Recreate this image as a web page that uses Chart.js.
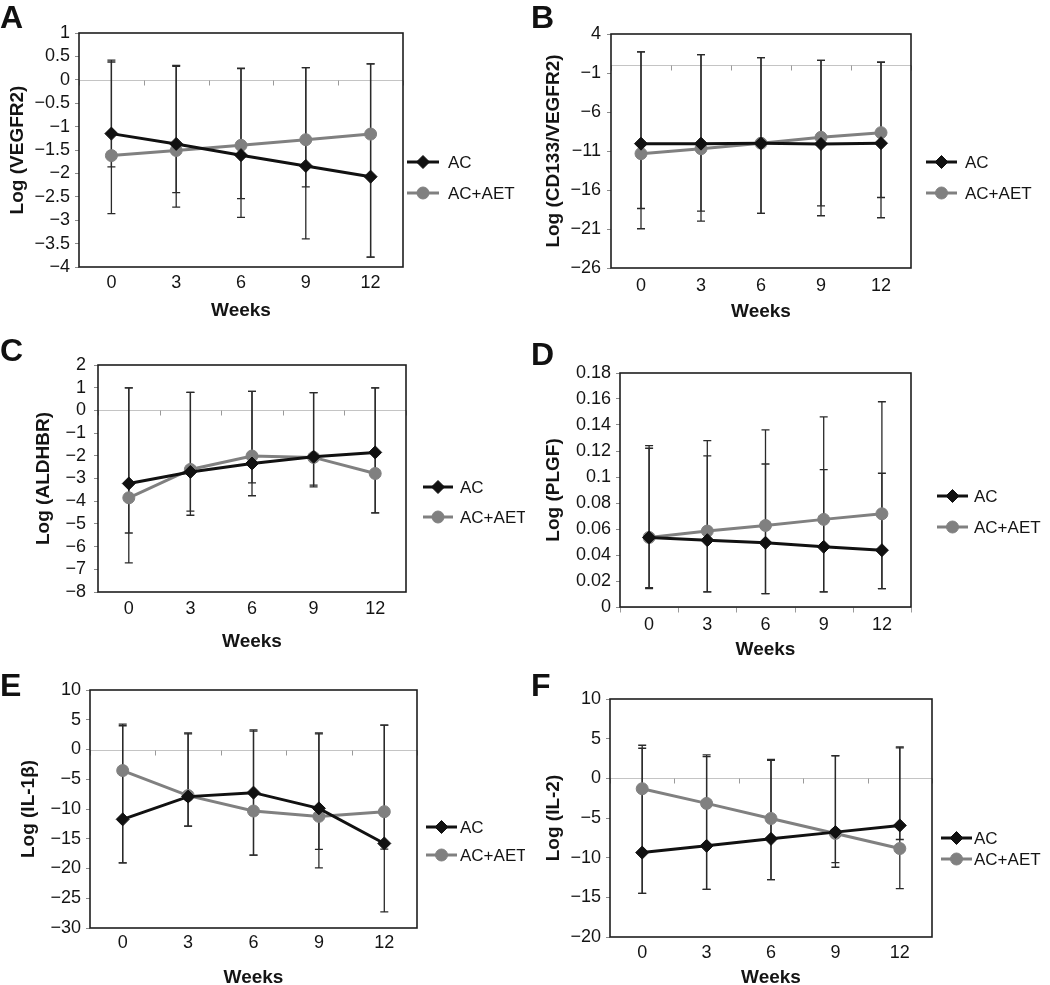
<!DOCTYPE html>
<html>
<head>
<meta charset="utf-8">
<script src="https://cdn.jsdelivr.net/npm/chart.js@4.4.1/dist/chart.umd.min.js"></script>
<style>
  html, body { margin: 0; padding: 0; background: #fff; overflow: hidden; }
  #wrap { position: relative; width: 1050px; height: 985px; }
  .letter { position: absolute; font: bold 32px "Liberation Sans", Arial, sans-serif; line-height: 1; color: #111; }
</style>
</head>
<body>
<div id="wrap"></div>
<script>
// ---- data ----
const weeks = ['0', '3', '6', '9', '12'];

// A: Log (VEGFR2)
const vegfrAC     = [-1.15, -1.37, -1.61, -1.84, -2.07];
const vegfrAET    = [-1.62, -1.51, -1.40, -1.28, -1.16];
const vegfrACHi   = [0.42, 0.31, 0.25, 0.26, 0.34];
const vegfrACLo   = [-2.86, -2.41, -2.54, -3.40, -3.79];
const vegfrAETHi  = [0.38, 0.29, 0.24, 0.26, 0.34];
const vegfrAETLo  = [-1.86, -2.72, -2.94, -2.29, -3.79];

// B: Log (CD133/VEGFR2)
const cd133AC     = [-10.06, -10.06, -10.02, -10.10, -10.00];
const cd133AET    = [-11.34, -10.70, -10.00, -9.25, -8.65];
const cd133ACHi   = [1.70, 1.36, 0.97, 0.63, 0.38];
const cd133ACLo   = [-20.97, -19.99, -19.00, -19.30, -19.56];
const cd133AETHi  = [1.70, 1.36, 0.97, 0.63, 0.38];
const cd133AETLo  = [-18.37, -18.70, -19.00, -18.03, -16.96];

// C: Log (ALDHBR)
const aldhAC      = [-3.22, -2.71, -2.34, -2.04, -1.85];
const aldhAET     = [-3.85, -2.60, -2.01, -2.07, -2.78];
const aldhACHi    = [0.99, 0.79, 0.84, 0.78, 0.99];
const aldhACLo    = [-6.72, -4.44, -3.76, -3.29, -4.51];
const aldhAETHi   = [0.99, 0.79, 0.84, 0.78, 0.99];
const aldhAETLo   = [-5.40, -4.62, -3.19, -3.37, -4.51];

// D: Log (PLGF)
const plgfAC      = [0.0535, 0.0514, 0.0494, 0.0463, 0.0437];
const plgfAET     = [0.0535, 0.0584, 0.0627, 0.0674, 0.0717];
const plgfACHi    = [0.1221, 0.1162, 0.1100, 0.1057, 0.1029];
const plgfACLo    = [0.0141, 0.0116, 0.0103, 0.0116, 0.0141];
const plgfAETHi   = [0.1242, 0.1280, 0.1363, 0.1463, 0.1579];
const plgfAETLo   = [0.0149, 0.0116, 0.0103, 0.0116, 0.0141];

// E: Log (IL-1β)
const il1bAC      = [-11.74, -7.92, -7.25, -9.89, -15.79];
const il1bAET     = [-3.54, -7.75, -10.34, -11.24, -10.45];
const il1bACHi    = [3.99, 2.64, 3.09, 2.64, 4.10];
const il1bACLo    = [-19.04, -12.87, -17.75, -16.80, -27.30];
const il1bAETHi   = [4.27, 2.81, 3.31, 2.81, 4.10];
const il1bAETLo   = [-19.04, -12.87, -17.75, -19.89, -16.74];

// F: Log (IL-2)
const il2AC       = [-9.36, -8.51, -7.63, -6.78, -5.94];
const il2AET      = [-1.31, -3.16, -5.06, -6.95, -8.85];
const il2ACHi     = [3.79, 2.74, 2.28, 2.82, 3.83];
const il2ACLo     = [-14.50, -13.99, -12.77, -11.21, -7.71];
const il2AETHi    = [4.17, 2.95, 2.40, 2.87, 3.96];
const il2AETLo    = [-14.50, -13.99, -12.77, -10.62, -13.90];

// y axis ranges [min, max, step]
const vegfrRange = [-4, 1, 0.5];
const cd133Range = [-26, 4, 5];
const aldhRange  = [-8, 2, 1];
const plgfRange  = [0, 0.18, 0.02];
const il1bRange  = [-30, 10, 5];
const il2Range   = [-20, 10, 5];

const seriesNames = ['AC', 'AC+AET'];

// ---- layout ----
const FONT = '"Liberation Sans", Arial, sans-serif';
const INK = '#141414';
const GREY = '#808080';

const panels = [
  { letter: 'A', lx: 0, ly: 1, left: 0, top: 0, w: 525, h: 320, area: [79, 33, 403, 267],
    range: vegfrRange, title: 'Log (VEGFR2)', yTitlePad: 8, yTickPad: 5, xTickPad: 7.5,
    legend: { x0: 407, x1: 439, tx: 448, y: [162, 193] },
    ac: vegfrAC, aet: vegfrAET, acHi: vegfrACHi, acLo: vegfrACLo, aetHi: vegfrAETHi, aetLo: vegfrAETLo },
  { letter: 'B', lx: 531, ly: 1, left: 525, top: 0, w: 525, h: 321, area: [86, 34, 386, 268],
    range: cd133Range, title: 'Log (CD133/VEGFR2)', yTitlePad: 19, yTickPad: 6, xTickPad: 9.5,
    legend: { x0: 401, x1: 432, tx: 440, y: [162, 193] },
    ac: cd133AC, aet: cd133AET, acHi: cd133ACHi, acLo: cd133ACLo, aetHi: cd133AETHi, aetLo: cd133AETLo },
  { letter: 'C', lx: 0, ly: 334, left: 0, top: 330, w: 525, h: 321, area: [98, 35, 406, 262],
    range: aldhRange, title: 'Log (ALDHBR)', yTitlePad: 34.5, yTickPad: 8, xTickPad: 8.5,
    legend: { x0: 423, x1: 453, tx: 460, y: [157, 187] },
    ac: aldhAC, aet: aldhAET, acHi: aldhACHi, acLo: aldhACLo, aetHi: aldhAETHi, aetLo: aldhAETLo },
  { letter: 'D', lx: 531, ly: 338, left: 525, top: 330, w: 525, h: 329, area: [95, 43, 386, 277],
    range: plgfRange, title: 'Log (PLGF)', yTitlePad: 19.5, yTickPad: 5, xTickPad: 9,
    legend: { x0: 412, x1: 443, tx: 449, y: [166, 197] },
    ac: plgfAC, aet: plgfAET, acHi: plgfACHi, acLo: plgfACLo, aetHi: plgfAETHi, aetLo: plgfAETLo },
  { letter: 'E', lx: 0, ly: 669, left: 0, top: 655, w: 525, h: 332, area: [90, 35, 417, 273],
    range: il1bRange, title: 'Log (IL-1β)', yTitlePad: 19.5, yTickPad: 5, xTickPad: 6.5,
    legend: { x0: 426, x1: 457, tx: 460, y: [172, 200] },
    ac: il1bAC, aet: il1bAET, acHi: il1bACHi, acLo: il1bACLo, aetHi: il1bAETHi, aetLo: il1bAETLo },
  { letter: 'F', lx: 531, ly: 669, left: 525, top: 655, w: 525, h: 332, area: [85, 44, 407, 282],
    range: il2Range, title: 'Log (IL-2)', yTitlePad: 19, yTickPad: 5, xTickPad: 7.5,
    legend: { x0: 416, x1: 447, tx: 449, y: [183, 204] },
    ac: il2AC, aet: il2AET, acHi: il2ACHi, acLo: il2ACLo, aetHi: il2AETHi, aetLo: il2AETLo }
];

// number format with a real minus sign, no trailing zeros
function fmtTick(v) {
  const s = String(parseFloat(Number(v).toFixed(4)));
  return s.replace('-', '\u2212');
}

// zero line + its ticks, error bars, plot frame and legend
const excelLook = {
  id: 'excelLook',
  beforeDatasetsDraw(chart) {
    const { ctx, chartArea: a, scales: { x, y } } = chart;
    ctx.save();
    const y0 = Math.round(y.getPixelForValue(0)) + 0.5;
    // grey zero line (the horizontal axis crosses here)
    ctx.strokeStyle = '#c4c4c4';
    ctx.lineWidth = 1;
    ctx.beginPath();
    ctx.moveTo(a.left, y0); ctx.lineTo(a.right, y0);
    ctx.stroke();
    // small ticks on the zero line between categories
    ctx.strokeStyle = '#9a9a9a';
    ctx.beginPath();
    for (let i = 0; i <= weeks.length; i++) {
      const xb = Math.round(x.getPixelForValue(i - 0.5)) + 0.5;
      ctx.moveTo(xb, y0);
      ctx.lineTo(xb, y0 + 5);
    }
    ctx.stroke();
    // error bars
    ctx.strokeStyle = '#2a2a2a';
    ctx.lineWidth = 1.3;
    chart.data.datasets.forEach(ds => {
      ds.data.forEach((v, i) => {
        const px = x.getPixelForValue(i);
        const yh = y.getPixelForValue(ds.errHi[i]);
        const yl = y.getPixelForValue(ds.errLo[i]);
        ctx.beginPath();
        ctx.moveTo(px, yh); ctx.lineTo(px, yl);
        ctx.moveTo(px - 4, yh); ctx.lineTo(px + 4, yh);
        ctx.moveTo(px - 4, yl); ctx.lineTo(px + 4, yl);
        ctx.stroke();
      });
    });
    ctx.restore();
  },
  afterDraw(chart) {
    const { ctx, chartArea: a } = chart;
    const lg = chart.options.plugins.excelLook.legend;
    ctx.save();
    ctx.strokeStyle = '#1e1e1e';
    ctx.lineWidth = 1.6;
    ctx.strokeRect(a.left, a.top, a.right - a.left, a.bottom - a.top);

    // legend: line + marker + label
    chart.data.datasets.forEach((ds, k) => {
      const yy = lg.y[k];
      ctx.strokeStyle = ds.borderColor;
      ctx.lineWidth = 3;
      ctx.beginPath();
      ctx.moveTo(lg.x0, yy); ctx.lineTo(lg.x1, yy);
      ctx.stroke();
      ctx.fillStyle = ds.backgroundColor;
      ctx.strokeStyle = ds.borderColor;
      ctx.lineWidth = 1;
      Chart.helpers.drawPoint(ctx, { pointStyle: ds.pointStyle, rotation: 0, radius: ds.pointRadius, borderWidth: 1 },
        (lg.x0 + lg.x1) / 2, yy);
      ctx.fillStyle = INK;
      ctx.font = '17px ' + FONT;
      ctx.textAlign = 'left';
      ctx.textBaseline = 'middle';
      ctx.fillText(ds.label, lg.tx, yy + 1);
    });
    ctx.restore();
  }
};

const wrap = document.getElementById('wrap');

panels.forEach(p => {
  const c = document.createElement('canvas');
  c.width = p.w;
  c.height = p.h;
  c.style.cssText = 'position:absolute;left:' + p.left + 'px;top:' + p.top + 'px;width:' + p.w + 'px;height:' + p.h + 'px';
  wrap.appendChild(c);

  const [l, t, r, b] = p.area;
  new Chart(c.getContext('2d'), {
    type: 'line',
    data: {
      labels: weeks,
      datasets: [
        { label: seriesNames[0], data: p.ac, errHi: p.acHi, errLo: p.acLo,
          borderColor: '#111111', backgroundColor: '#111111', borderWidth: 3,
          pointStyle: 'rectRot', pointRadius: 6.5, pointBorderWidth: 1, tension: 0 },
        { label: seriesNames[1], data: p.aet, errHi: p.aetHi, errLo: p.aetLo,
          borderColor: GREY, backgroundColor: GREY, borderWidth: 3,
          pointStyle: 'circle', pointRadius: 6, pointBorderWidth: 1, tension: 0 }
      ]
    },
    options: {
      responsive: false,
      animation: false,
      events: [],
      layout: { padding: { left: 0, top: t, right: p.w - r, bottom: 0 } },
      plugins: {
        legend: { display: false },
        tooltip: { enabled: false },
        excelLook: { legend: p.legend }
      },
      scales: {
        x: {
          type: 'category',
          offset: true,
          grid: { display: false, drawTicks: false },
          border: { display: false },
          ticks: { color: INK, font: { family: FONT, size: 18, lineHeight: 1 }, padding: p.xTickPad,
                   maxRotation: 0, autoSkip: false },
          title: { display: true, text: 'Weeks', color: INK,
                   font: { family: FONT, size: 19, weight: 'bold', lineHeight: 1 }, padding: { top: 0, bottom: 0 } },
          afterFit: s => { s.height = p.h - b; }
        },
        y: {
          min: p.range[0],
          max: p.range[1],
          border: { display: false },
          grid: {
            color: 'rgba(0,0,0,0)',
            tickColor: '#8c8c8c',
            tickLength: 4,
            lineWidth: 1
          },
          ticks: { stepSize: p.range[2], autoSkip: false, callback: fmtTick, color: INK,
                   font: { family: FONT, size: 18, lineHeight: 1 }, padding: p.yTickPad },
          title: { display: true, text: p.title, color: INK,
                   font: { family: FONT, size: 19, weight: 'bold', lineHeight: 1 }, padding: { top: p.yTitlePad, bottom: 0 } },
          afterFit: s => { s.width = l; }
        }
      }
    },
    plugins: [excelLook]
  });

  const d = document.createElement('div');
  d.className = 'letter';
  d.textContent = p.letter;
  d.style.left = p.lx + 'px';
  d.style.top = p.ly + 'px';
  wrap.appendChild(d);
});
</script>
</body>
</html>
